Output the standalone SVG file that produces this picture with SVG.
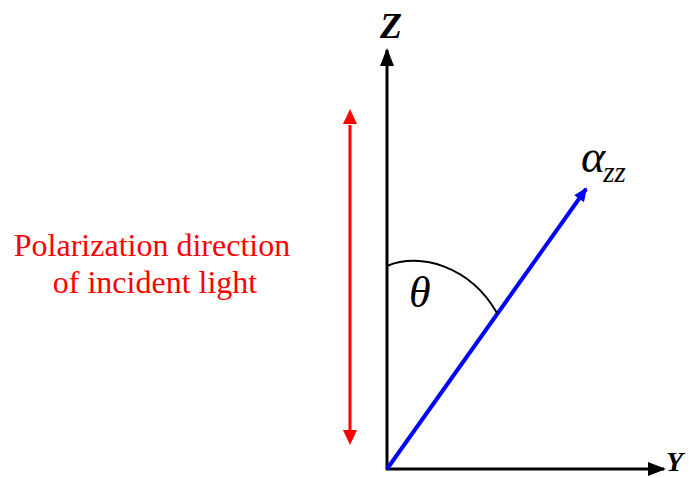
<svg xmlns="http://www.w3.org/2000/svg" width="695" height="478" viewBox="0 0 695 478">
<style>
.ax{stroke:#000;stroke-width:3;fill:none}
.lbl{font-family:'Liberation Serif','Times New Roman',serif;font-style:italic}
.red{fill:#f00;font-family:'Liberation Serif','Times New Roman',serif;font-size:32px}
</style>
<defs>
<marker id="abl" markerWidth="14" markerHeight="12" refX="12" refY="6" orient="auto" markerUnits="userSpaceOnUse" viewBox="0 0 14 12"><path d="M0,0 L14,6 L0,12 z" fill="#00f"/></marker>
<marker id="ak" markerWidth="18" markerHeight="14" refX="16" refY="7" orient="auto" markerUnits="userSpaceOnUse" viewBox="0 0 18 14"><path d="M0,0 L18,7 L0,14 z" fill="#000"/></marker>
</defs>
<g id="connectors">
<line class="ax" x1="387" y1="470" x2="387" y2="50" marker-end="url(#ak)"/>
<line class="ax" x1="386" y1="469" x2="664" y2="469" marker-end="url(#ak)"/>
<line x1="387" y1="469" x2="586" y2="189" stroke="#00f" stroke-width="4" marker-end="url(#abl)"/>
<line x1="350" y1="125" x2="350" y2="430" stroke="#f00" stroke-width="3"/>
<path d="M350,109 L343,124 L357,124 z" fill="#f00"/>
<path d="M350,445 L343,430 L357,430 z" fill="#f00"/>
<path d="M387,266 C420,252 470,266 497,313" fill="none" stroke="#000" stroke-width="2"/>
</g>
<g id="z-label"><text class="lbl" x="380" y="38" font-size="36" font-weight="bold">Z</text></g>
<g id="y-label"><text class="lbl" x="666" y="471" font-size="28" font-weight="bold">Y</text></g>
<g id="alpha-label"><text class="lbl" x="581" y="172" font-size="46">α<tspan font-size="29" dx="-2" dy="10">zz</tspan></text></g>
<g id="theta-label"><text class="lbl" x="409" y="307" font-size="44">θ</text></g>
<g id="polarization-label">
<text class="red" x="152" y="256" text-anchor="middle">Polarization direction</text>
<text class="red" x="155" y="293" text-anchor="middle">of incident light</text>
</g>
</svg>
